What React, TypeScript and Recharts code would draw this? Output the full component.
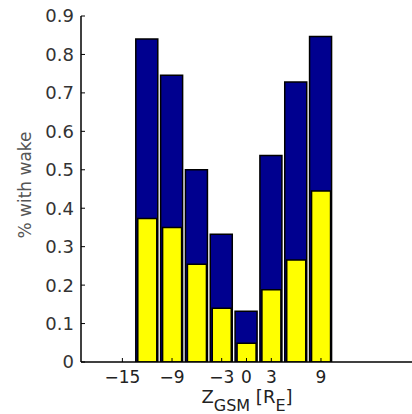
import React from 'react';
import { BarChart, Bar, XAxis, YAxis } from 'recharts';

// Z_GSM bin centres [R_E]
const zPositions = [-12, -9, -6, -3, 0, 3, 6, 9];
// fraction of crossings with a wake (full bar, navy)
const totalFraction = [0.84, 0.746, 0.5, 0.332, 0.132, 0.537, 0.728, 0.847];
// lower part of each bar (yellow)
const yellowFraction = [0.373, 0.35, 0.254, 0.14, 0.049, 0.188, 0.265, 0.445];

const xTicks = [-15, -9, -3, 0, 3, 9];
const yTicks = [0, 0.1, 0.2, 0.3, 0.4, 0.5, 0.6, 0.7, 0.8, 0.9];

const data = zPositions.map((z, i) => ({
  z,
  total: totalFraction[i],
  yellow: yellowFraction[i],
}));

const FONT = '"DejaVu Sans", Arial, sans-serif';
const NAVY = '#00008F';
const YELLOW = '#FFFF00';

const fmtX = (v: number) => (v < 0 ? `\u2212${Math.abs(v)}` : `${v}`);
const fmtY = (v: number) => (v === 0 ? '0' : v.toFixed(1));

const LeftTick = (props: any) => {
  const { x, y, payload } = props;
  return (
    <g>
      <line x1={x} x2={x + 4} y1={y} y2={y} stroke="#000" strokeWidth={1} />
      <text x={x - 7} y={y} dy="0.36em" textAnchor="end" fontSize={18} fontFamily={FONT} fill="#333">
        {fmtY(payload.value)}
      </text>
    </g>
  );
};

const RightTick = (props: any) => {
  const { x, y } = props;
  return <line x1={x - 4} x2={x} y1={y} y2={y} stroke="#000" strokeWidth={1} />;
};

const BottomTick = (props: any) => {
  const { x, y, payload } = props;
  return (
    <g>
      <line x1={x} x2={x} y1={y} y2={y - 4} stroke="#000" strokeWidth={1} />
      <text x={x} y={y + 21} textAnchor="middle" fontSize={17} fontFamily={FONT} fill="#222">
        {fmtX(payload.value)}
      </text>
    </g>
  );
};

const TopTick = (props: any) => {
  const { x, y } = props;
  return <line x1={x} x2={x} y1={y} y2={y + 4} stroke="#000" strokeWidth={1} />;
};

const XLabel = () => (
  <text x={247} y={403} textAnchor="middle" fontSize={18} fontFamily={FONT} fill="#222">
    <tspan>Z</tspan>
    <tspan dy={8} fontSize={16}>GSM</tspan>
    <tspan dy={-8}> [R</tspan>
    <tspan dy={8} fontSize={16}>E</tspan>
    <tspan dy={-8}>]</tspan>
  </text>
);

const YLabel = () => (
  <text
    x={0}
    y={0}
    transform="translate(31 185) rotate(-90)"
    textAnchor="middle"
    fontSize={17}
    fontFamily={FONT}
    fill="#555"
  >
    % with wake
  </text>
);

export default function App() {
  return (
    <div style={{ position: 'fixed', left: 0, top: 0, background: '#fff' }}>
      <BarChart width={412} height={414} data={data} margin={{ top: 16, right: 0, bottom: 0, left: 0 }}>
        <XAxis
          dataKey="z"
          type="number"
          domain={[-20, 20]}
          ticks={xTicks}
          allowDataOverflow
          height={52}
          tickSize={0}
          tickMargin={0}
          tickLine={false}
          tick={<BottomTick />}
          axisLine={{ stroke: '#000', strokeWidth: 1.5 }}
          label={<XLabel />}
        />
        <XAxis
          xAxisId="top"
          dataKey="z"
          type="number"
          orientation="top"
          domain={[-20, 20]}
          ticks={xTicks}
          allowDataOverflow
          height={0}
          tickSize={0}
          tickMargin={0}
          tickLine={false}
          tick={<TopTick />}
          axisLine={{ stroke: '#000', strokeWidth: 1.5 }}
        />
        <YAxis
          type="number"
          domain={[0, 0.9]}
          ticks={yTicks}
          allowDataOverflow
          width={81}
          tickSize={0}
          tickMargin={0}
          tickLine={false}
          tick={<LeftTick />}
          axisLine={{ stroke: '#000', strokeWidth: 1.5 }}
          label={<YLabel />}
        />
        <YAxis
          yAxisId="right"
          orientation="right"
          type="number"
          domain={[0, 0.9]}
          ticks={yTicks}
          allowDataOverflow
          width={0}
          tickSize={0}
          tickMargin={0}
          tickLine={false}
          tick={<RightTick />}
          axisLine={{ stroke: '#000', strokeWidth: 1.5 }}
        />
        <Bar
          dataKey="total"
          barSize={22}
          fill={NAVY}
          stroke="#000"
          strokeWidth={1.5}
          isAnimationActive={false}
        />
        <Bar
          dataKey="yellow"
          xAxisId="top"
          barSize={19}
          fill={YELLOW}
          stroke="#000"
          strokeWidth={1.5}
          isAnimationActive={false}
        />
      </BarChart>
    </div>
  );
}
